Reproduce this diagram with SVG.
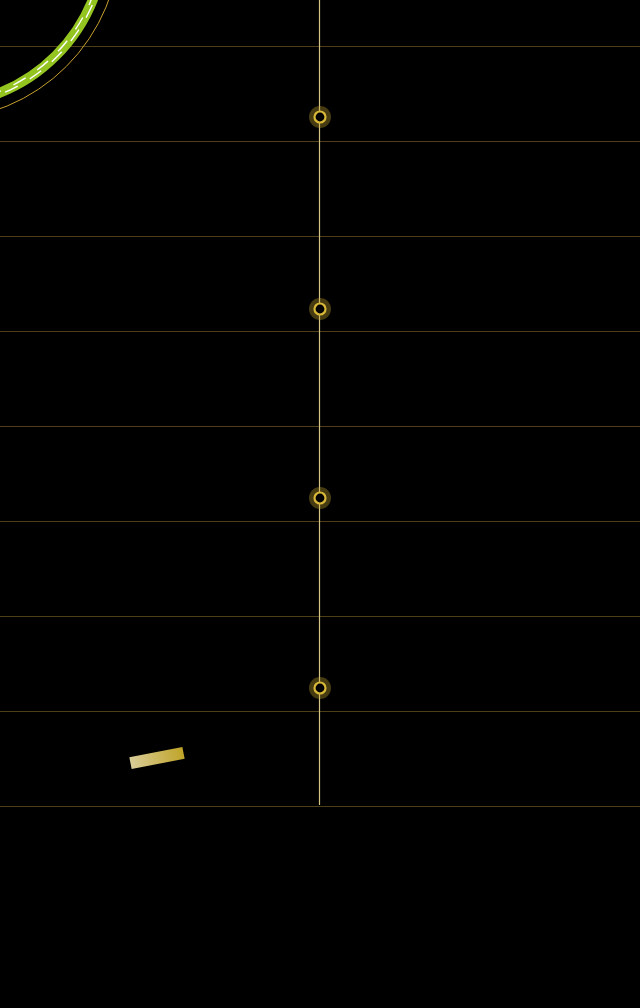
<svg xmlns="http://www.w3.org/2000/svg" width="640" height="1008" viewBox="0 0 640 1008">
<defs>
<style>
.grid{stroke:#4d3f17;stroke-width:1;}
.axis{stroke:#d4c484;stroke-width:1.2;}
.halo{fill:#c8a830;fill-opacity:0.35;}
.ring{fill:#000;stroke:#d8b838;stroke-width:2.2;}
</style>
<linearGradient id="bar" x1="0" y1="0" x2="1" y2="0">
<stop offset="0" stop-color="#d8cc98"/>
<stop offset="1" stop-color="#c0a428"/>
</linearGradient>
</defs>
<rect width="640" height="1008" fill="#000"/>
<g id="grid">
<line class="grid" x1="0" y1="46.5" x2="640" y2="46.5"/>
<line class="grid" x1="0" y1="141.5" x2="640" y2="141.5"/>
<line class="grid" x1="0" y1="236.5" x2="640" y2="236.5"/>
<line class="grid" x1="0" y1="331.5" x2="640" y2="331.5"/>
<line class="grid" x1="0" y1="426.5" x2="640" y2="426.5"/>
<line class="grid" x1="0" y1="521.5" x2="640" y2="521.5"/>
<line class="grid" x1="0" y1="616.5" x2="640" y2="616.5"/>
<line class="grid" x1="0" y1="711.5" x2="640" y2="711.5"/>
<line class="grid" x1="0" y1="806.5" x2="640" y2="806.5"/>
</g>
<g id="arc">
<circle cx="-63" cy="-63" r="183" fill="none" stroke="#c8a030" stroke-width="1"/>
<circle cx="-63" cy="-63" r="168" fill="none" stroke="#94c420" stroke-width="10"/>
<circle cx="-63" cy="-63" r="166.5" fill="none" stroke="#ffffff" stroke-width="1.4" stroke-dasharray="14 14"/>
<circle cx="-63" cy="-63" r="169.5" fill="none" stroke="#ffffff" stroke-width="1.4" stroke-dasharray="14 14" stroke-dashoffset="14"/>
</g>
<g id="connectors">
<line class="axis" x1="319.5" y1="0" x2="319.5" y2="805"/>
</g>
<g id="node1"><circle class="halo" cx="320" cy="117" r="11"/><circle class="ring" cx="320" cy="117" r="5.5"/></g>
<g id="node2"><circle class="halo" cx="320" cy="309" r="11"/><circle class="ring" cx="320" cy="309" r="5.5"/></g>
<g id="node3"><circle class="halo" cx="320" cy="498" r="11"/><circle class="ring" cx="320" cy="498" r="5.5"/></g>
<g id="node4"><circle class="halo" cx="320" cy="688" r="11"/><circle class="ring" cx="320" cy="688" r="5.5"/></g>
<g id="bar-node">
<rect x="-27" y="-6" width="54" height="12" fill="url(#bar)" transform="translate(157,758) rotate(-11)"/>
</g>
</svg>
